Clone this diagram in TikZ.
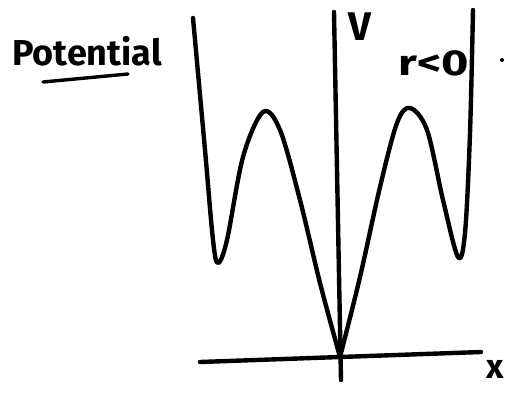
\documentclass[tikz,border=0pt]{standalone}
\usepackage{fontspec}
\setsansfont{Fira Sans}
\usetikzlibrary{calc}

\begin{document}
\begin{tikzpicture}[x=1pt,y=-1pt,line cap=round,line join=round,
        pen/.style={line width=4.4pt},
        hand/.style={font=\sffamily\bfseries\fontsize{#1}{#1}\selectfont,inner sep=0pt},
        hand/.default=36]
    \useasboundingbox (0,0) rectangle (514,392);
    % axes
    \coordinate (O) at (340,357);
    \coordinate (xl) at (200,362);
    \coordinate (xr) at (481,352);
    \coordinate (vt) at (334,12);
    \coordinate (vb) at (341,380);
    \draw[pen] (xl) -- (O) -- (xr);
    \draw[pen] (vt) -- (vb);
    % potential curve
    \draw[pen] plot[smooth,tension=0.55] coordinates {(193,18) (205,150) (213,240) (218,263)
        (227,240) (243,157) (263,112) (280,130) (300,200) (320,283) (O)};
    \draw[pen] plot[smooth,tension=0.55] coordinates {(O) (360,277) (380,187) (397,123)
        (410,108) (427,130) (443,200) (458,257) (465,233) (470,133) (473,10)};
    % labels
    \node[hand,anchor=base west] (pot) at (12,65) {Potential};
    \draw[pen,line width=3.4pt] (43,82) -- (128,74);
    \node[hand=40] (V) at (360,27) {V};
    \node[hand,xscale=1.3] (rlt) at (434,63) {r<0};
    \node[hand=34] (xlab) at (495,369) {x};
    \fill (502,60) circle (2pt);
\end{tikzpicture}
\end{document}
